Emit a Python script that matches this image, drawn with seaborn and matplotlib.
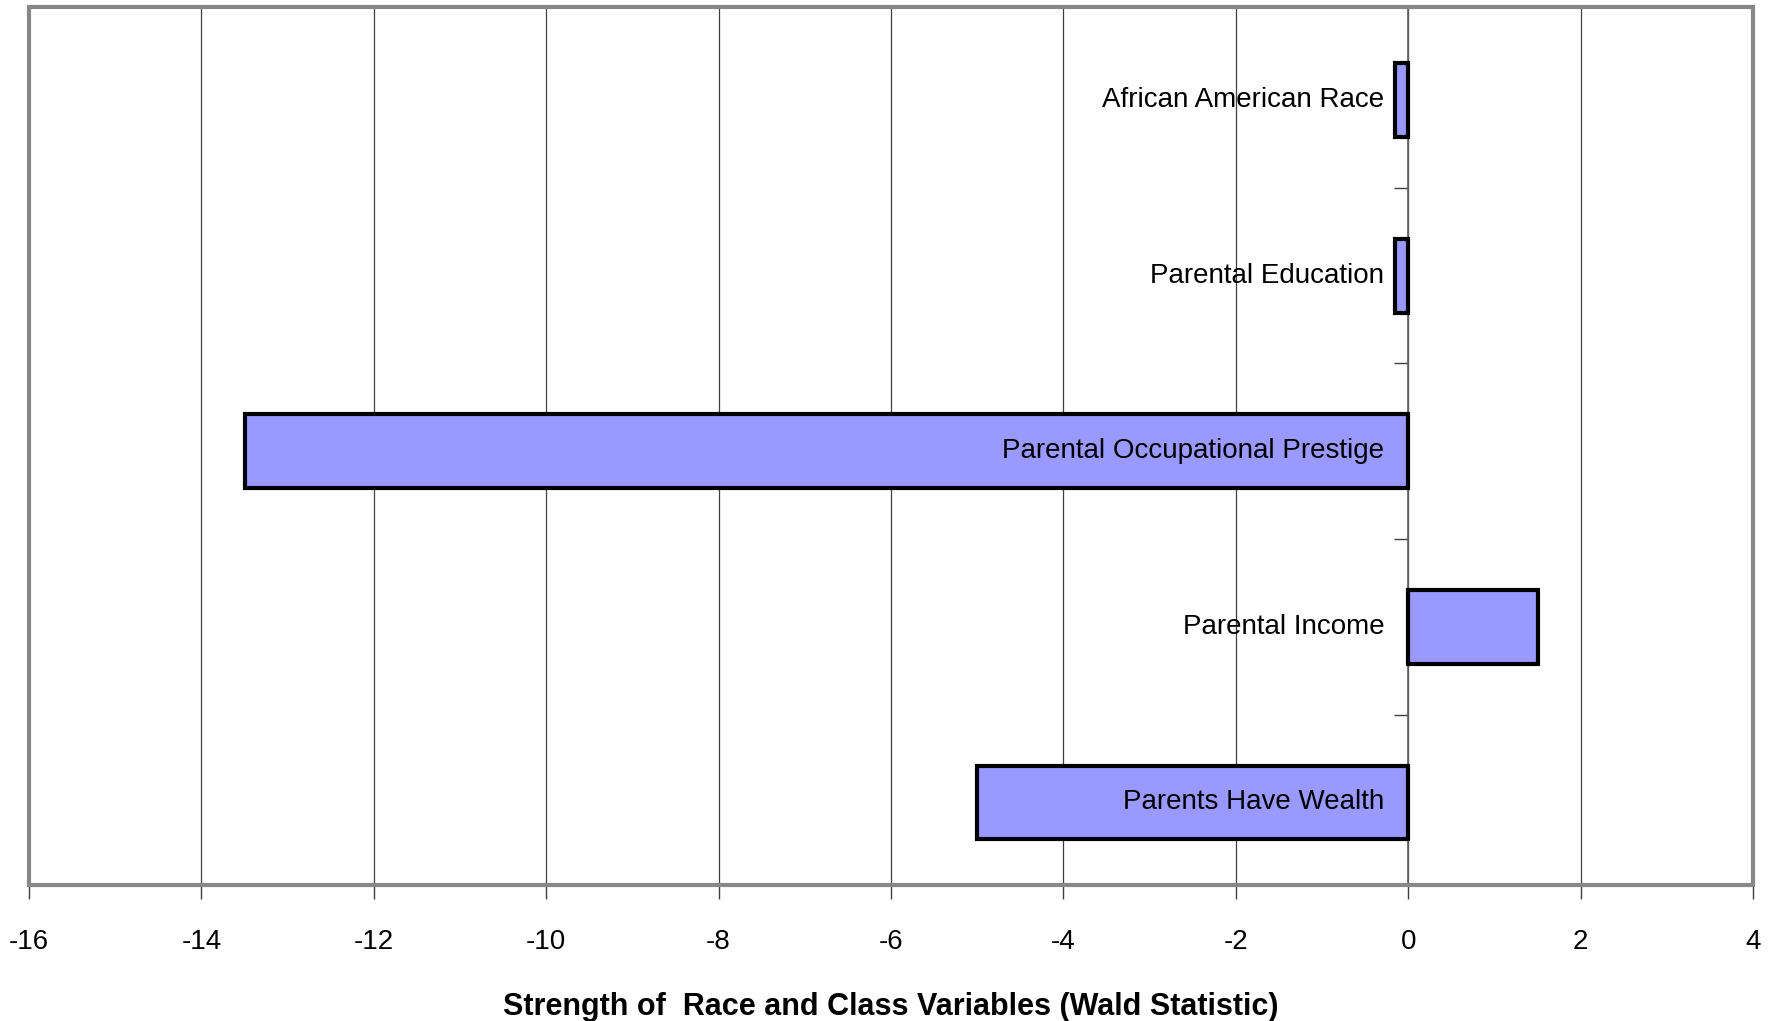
import matplotlib
matplotlib.use("Agg")
import matplotlib.pyplot as plt
import seaborn as sns
import pandas as pd
import numpy as np
from matplotlib.patches import Rectangle

categories = ["African American Race", "Parental Education",
              "Parental Occupational Prestige", "Parental Income",
              "Parents Have Wealth"]
values = [-0.15, -0.15, -13.5, 1.5, -5.0]
x_ticks = [-16, -14, -12, -10, -8, -6, -4, -2, 0, 2, 4]
x_label = "Strength of  Race and Class Variables (Wald Statistic)"

sns.set_theme(style="white")
plt.rcParams['font.family'] = ['Liberation Sans', 'DejaVu Sans']

df = pd.DataFrame({"category": categories, "value": values})

fig = plt.figure(figsize=(17.69, 10.21), dpi=100)
ax = fig.add_axes([29/1769, 1 - 885/1021, (1753 - 29)/1769, (885 - 7)/1021])

sns.barplot(data=df, x="value", y="category", orient="h", color="#9999FF",
            saturation=1, width=0.42, edgecolor="black", linewidth=3, ax=ax, zorder=3)

ax.set_xlim(-16, 4)
ax.set_ylim(len(categories) - 0.53, -0.53)
ax.set_xticks(x_ticks)
ax.set_xticklabels([str(t) for t in x_ticks], fontsize=20, color="black")
ax.tick_params(axis="x", which="major", direction="out", length=10, width=1,
               color="#404040", pad=22, bottom=True)
ax.xaxis.grid(True, color="#404040", linewidth=0.9, zorder=1)
ax.set_axisbelow(True)

# y axis at x = 0 with boundary ticks between categories
ax.spines['left'].set_position(('data', 0))
ax.spines['left'].set_color("#606060")
ax.spines['left'].set_linewidth(1.2)
ax.spines['left'].set_zorder(2)
ax.set_yticks(np.arange(1, len(categories)) - 0.5)
ax.set_yticklabels([])
ax.tick_params(axis="y", direction="out", length=10, width=1, color="#404040", left=True)
ax.set_ylabel("")
for s in ['top', 'right', 'bottom']:
    ax.spines[s].set_visible(False)

# frame
ax.add_patch(Rectangle((0, 0), 1, 1, transform=ax.transAxes, fill=False,
                       edgecolor="#888888", linewidth=3, zorder=5, clip_on=False))

for i, (cat, v) in enumerate(zip(categories, values)):
    ax.annotate(cat, xy=(0, i), xytext=(-24, 0), textcoords="offset pixels",
                ha="right", va="center", fontsize=20, color="black", zorder=6)

ax.set_xlabel(x_label, fontsize=22, fontweight="bold", color="black", labelpad=26)

fig.savefig("out.png", dpi=100)
